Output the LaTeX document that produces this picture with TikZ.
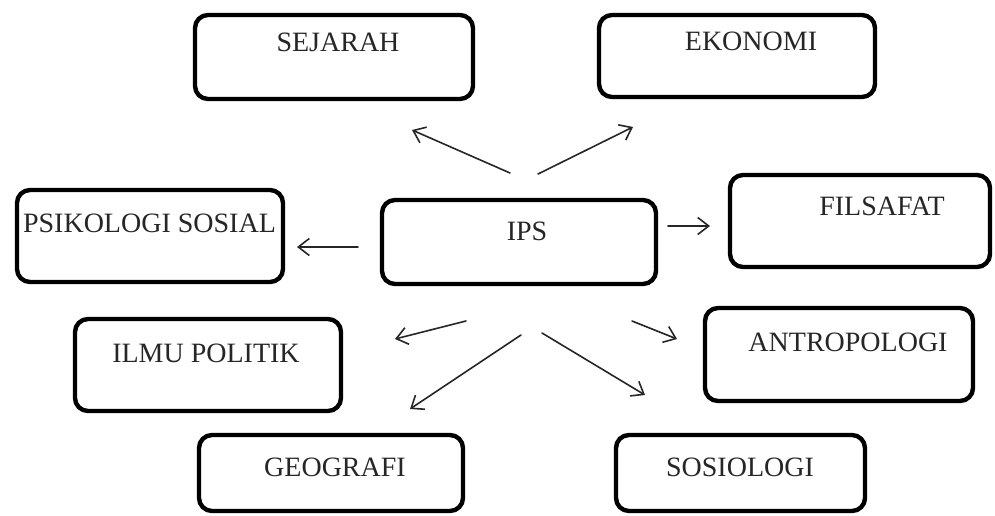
\documentclass[tikz,border=0pt]{standalone}
\usepackage{fontspec}
\setmainfont{Liberation Serif}
\usetikzlibrary{arrows.meta}
\begin{document}
\begin{tikzpicture}[x=1pt,y=-1pt,
  box/.style={draw=black,line width=4.4pt,rounded corners=13pt,minimum width=#1,inner sep=0pt},
  lbl/.style={anchor=base,inner sep=0pt,font=\fontsize{28}{32}\selectfont,text=black!85},
  arr/.style={draw=black!85,line width=1.6pt,line cap=round,-{Straight Barb[length=11pt,width=17pt,line width=1.6pt]}}]
\useasboundingbox[fill=white] (0,0) rectangle (995,516);
% boxes
\node[box=278pt,minimum height=84pt] (sej) at (334,57) {};
\node[box=276pt,minimum height=82pt] (eko) at (737,56) {};
\node[box=266pt,minimum height=92pt] (psi) at (150,236) {};
\node[box=274pt,minimum height=84pt] (ips) at (519,242) {};
\node[box=260pt,minimum height=92pt] (fil) at (860,221) {};
\node[box=268pt,minimum height=93pt] (ant) at (839,354.5) {};
\node[box=266pt,minimum height=92pt] (ilm) at (208,365) {};
\node[box=264pt,minimum height=76pt] (geo) at (331,473) {};
\node[box=249pt,minimum height=76pt] (sos) at (740.5,473) {};
% labels
\node[lbl] (sejt) at (338,52) {SEJARAH};
\node[lbl] (ekot) at (751,51) {EKONOMI};
\node[lbl] (psit) at (149.5,232) {PSIKOLOGI SOSIAL};
\node[lbl] (ipst) at (527,240) {IPS};
\node[lbl] (filt) at (882,215) {FILSAFAT};
\node[lbl] (antt) at (848,351) {ANTROPOLOGI};
\node[lbl] (ilmt) at (206,362) {ILMU POLITIK};
\node[lbl] (geot) at (335,476) {GEOGRAFI};
\node[lbl] (sost) at (740,476) {SOSIOLOGI};
% arrow ends
\coordinate (s1) at (510,173); \coordinate (e1) at (412,130);
\coordinate (s2) at (538,174); \coordinate (e2) at (633,127);
\coordinate (s3) at (358,247); \coordinate (e3) at (297,247);
\coordinate (s4) at (668,226); \coordinate (e4) at (710,226);
\coordinate (s5) at (466,321); \coordinate (e5) at (395,339);
\coordinate (s6) at (632,321); \coordinate (e6) at (677,339);
\coordinate (s7) at (521,335); \coordinate (e7) at (410,409);
\coordinate (s8) at (542,333); \coordinate (e8) at (645,395);
\draw[arr] (s1) -- (e1);
\draw[arr] (s2) -- (e2);
\draw[arr] (s3) -- (e3);
\draw[arr] (s4) -- (e4);
\draw[arr] (s5) -- (e5);
\draw[arr] (s6) -- (e6);
\draw[arr] (s7) -- (e7);
\draw[arr] (s8) -- (e8);
\end{tikzpicture}
\end{document}
